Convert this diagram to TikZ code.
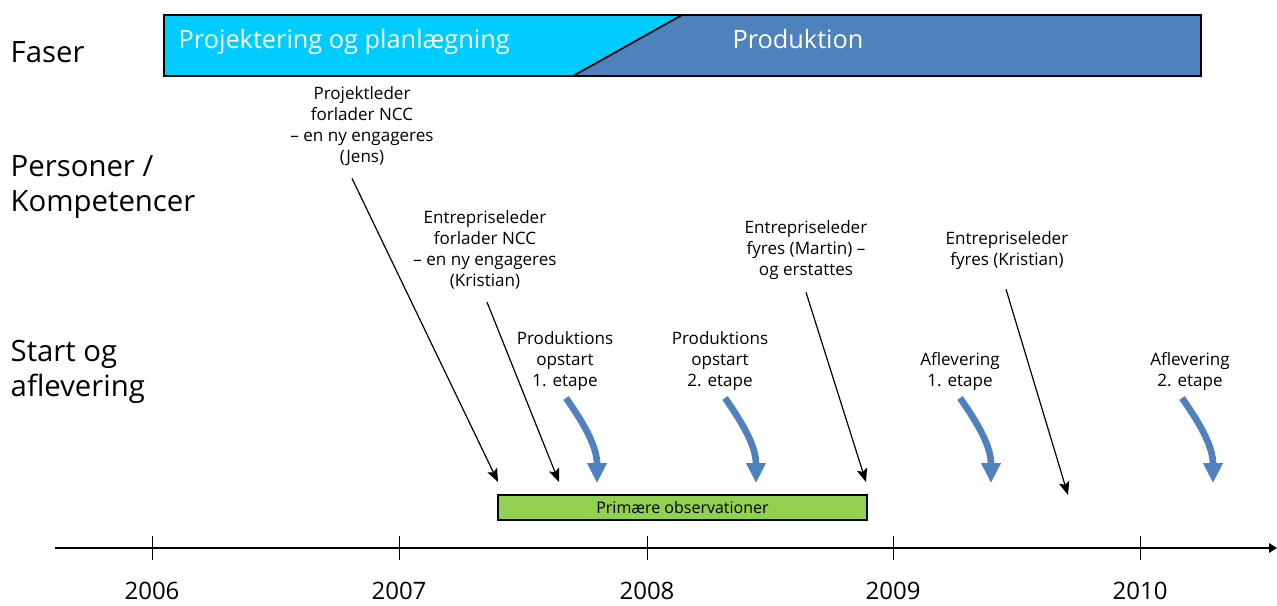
\documentclass[tikz,border=0pt]{standalone}
\usepackage{fontspec}
\setmainfont{Open Sans}
\usetikzlibrary{arrows.meta}
\definecolor{cyanfase}{RGB}{0,204,255}
\definecolor{blaafase}{RGB}{79,129,189}
\definecolor{groenobs}{RGB}{146,208,80}
\begin{document}
\begin{tikzpicture}[x=0.75pt, y=-0.75pt,
  raekke/.style={anchor=west, align=left, font=\fontsize{22}{26.5}\selectfont},
  note/.style={align=center, font=\fontsize{12.8}{15.8}\selectfont},
  fasetekst/.style={text=white, font=\fontsize{19}{22}\selectfont},
  aar/.style={font=\fontsize{18}{22}\selectfont},
  sort/.style={-{Stealth[length=10pt,width=8pt,inset=2pt]}, line width=0.9pt},
  blaa/.style={-{Triangle[length=15pt,width=14pt]}, line width=5pt, draw=blaafase}
]
\useasboundingbox (0,0) rectangle (1277,606);
% faser
\fill[cyanfase] (164,15) -- (682,15) -- (573,76) -- (164,76) -- cycle;
\fill[blaafase] (682,15) -- (1201,15) -- (1201,76) -- (573,76) -- cycle;
\draw[line width=1.3pt] (682,15) -- (573,76);
\draw[line width=1.3pt] (164,15) rectangle (1201,76);
\node[fasetekst, anchor=west] (proj) at (174,42) {Projektering og planlægning};
\node[fasetekst] (prod) at (798,39) {Produktion};
% raekker
\node[raekke] (faser) at (6,52) {Faser};
\node[raekke] (pers) at (6,187) {Personer /\\Kompetencer};
\node[raekke] (start) at (6,372) {Start og\\aflevering};
% tidsakse
\draw[line width=1.5pt, -{Triangle[length=6pt,width=7pt]}] (55,548) -- (1277,548);
\foreach \x/\aar in {152/2006, 399/2007, 647/2008, 893/2009, 1140/2010} {
  \draw[line width=0.7pt] (\x,536) -- (\x,560);
  \node[aar] (a\aar) at (\x,591) {\aar};
}
% observationer
\node[draw, line width=1.2pt, fill=groenobs, minimum width=276.75pt, minimum height=18.75pt,
  inner sep=0pt, font=\fontsize{12}{14}\selectfont] (obs) at (682.5,507.5) {Primære observationer};
% personer
\node[note] (jens) at (362,126) {Projektleder\\forlader NCC\\–  en ny engageres\\(Jens)};
\node[note] (kris1) at (485,250) {Entrepriseleder\\forlader NCC\\–  en ny engageres\\(Kristian)};
\node[note] (martin) at (806,250) {Entrepriseleder\\fyres (Martin) –\\og erstattes};
\node[note] (kris2) at (1007,250.5) {Entrepriseleder\\fyres (Kristian)};
\coordinate (e1) at (498,482);
\coordinate (e2) at (559,482);
\coordinate (e3) at (866,482);
\coordinate (e4) at (1068,495);
\draw[sort] (jens.south -| 352,0) ++(0,8) -- (e1);
\draw[sort] (kris1.south -| 487,0) ++(0,8) -- (e2);
\draw[sort] (martin.south -| 806,0) ++(0,8) -- (e3);
\draw[sort] (kris2.south -| 1006,0) ++(0,15) -- (e4);
% start og aflevering
\node[note] (ops1) at (565,361) {Produktions\\opstart\\1. etape};
\node[note] (ops2) at (720,361) {Produktions\\opstart\\2. etape};
\node[note] (afl1) at (960,371.5) {Aflevering\\1. etape};
\node[note] (afl2) at (1190,371.5) {Aflevering\\2. etape};
\coordinate (b1) at (597,483);
\coordinate (b2) at (756,483);
\coordinate (b3) at (991,483);
\coordinate (b4) at (1213,483);
\draw[blaa] (566,398) to[out=-55,in=90] (b1);
\draw[blaa] (725,398) to[out=-55,in=90] (b2);
\draw[blaa] (960,398) to[out=-55,in=90] (b3);
\draw[blaa] (1182,398) to[out=-55,in=90] (b4);
\end{tikzpicture}
\end{document}
